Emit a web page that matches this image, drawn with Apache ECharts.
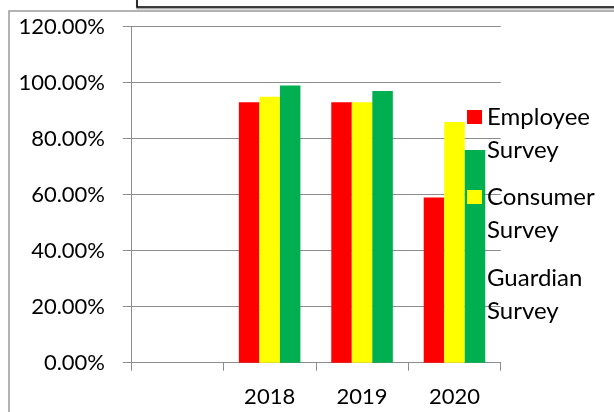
<!DOCTYPE html>
<html>
<head>
<meta charset="utf-8">
<script src="https://cdn.jsdelivr.net/npm/echarts@6/dist/echarts.min.js"></script>
<style>
html,body{margin:0;padding:0;background:#fff;}
#chart{width:614px;height:412px;}
</style>
</head>
<body>
<div id="chart"></div>
<script>
var categories = ['', '2018', '2019', '2020'];
var employeeSurvey = [null, 93, 93, 59];
var consumerSurvey = [null, 95, 93, 86];
var guardianSurvey = [null, 99, 97, 76];
var seriesNames = ['Employee Survey', 'Consumer Survey', 'Guardian Survey'];
var seriesColors = ['#FF0000', '#FFFF00', '#00B050'];
var yTicks = [0, 20, 40, 60, 80, 100, 120];

var FONT = 'Lato';
var chart = echarts.init(document.getElementById('chart'), null, {renderer: 'canvas'});

var values = [employeeSurvey, consumerSurvey, guardianSurvey];
var legendTops = [67.5, 147.5, 228.5];

var option = {
  animation: false,
  backgroundColor: '#ffffff',
  textStyle: {fontFamily: FONT},
  grid: {left: 131, right: 113.3, top: 26.7, bottom: 49.3, containLabel: false},
  xAxis: {
    type: 'category',
    data: categories,
    axisLine: {lineStyle: {color: '#8c8c8c', width: 1}},
    axisTick: {show: true, length: 8, lineStyle: {color: '#8c8c8c'}},
    axisLabel: {color: '#000', fontFamily: FONT, fontSize: 22, margin: 23}
  },
  yAxis: {
    type: 'value',
    min: yTicks[0],
    max: yTicks[yTicks.length - 1],
    interval: yTicks[1] - yTicks[0],
    axisLine: {show: true, lineStyle: {color: '#8c8c8c', width: 1}},
    axisTick: {show: true, length: 8, lineStyle: {color: '#8c8c8c'}},
    splitLine: {show: true, lineStyle: {color: '#8c8c8c', width: 1}},
    axisLabel: {color: '#000', fontFamily: FONT, fontSize: 22, margin: 26,
      formatter: function (v) { return v.toFixed(2) + '%'; }}
  },
  legend: seriesNames.map(function (n, i) {
    return {
      data: [n],
      left: 467,
      top: legendTops[i],
      orient: 'vertical',
      padding: 0,
      icon: 'rect',
      itemWidth: 15,
      itemHeight: 14,
      selectedMode: false,
      formatter: function (name) { return '\n' + name.replace(' ', '\n'); },
      textStyle: {color: '#000', fontFamily: FONT, fontSize: 24, lineHeight: 33}
    };
  }),
  series: seriesNames.map(function (n, i) {
    return {
      name: n,
      type: 'bar',
      data: values[i],
      barGap: '0%',
      barCategoryGap: '33.4%',
      itemStyle: {color: seriesColors[i]}
    };
  }),
  graphic: [
    {type: 'rect', z: 100, silent: true,
      shape: {x: 9, y: 11, width: 800, height: 600},
      style: {fill: null, stroke: '#9a9a9a', lineWidth: 1.5}},
    {type: 'rect', z: 100, silent: true,
      shape: {x: 137, y: -60, width: 800, height: 67},
      style: {fill: null, stroke: '#000', lineWidth: 1.5, shadowColor: 'rgba(0,0,0,0.4)', shadowOffsetY: 1.5, shadowBlur: 1}}
  ]
};
chart.setOption(option);
</script>
</body>
</html>
